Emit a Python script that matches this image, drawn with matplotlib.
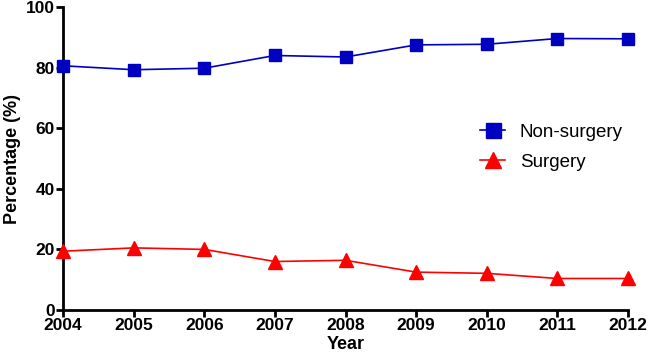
import matplotlib
matplotlib.use("Agg")
import matplotlib.pyplot as plt

years = [2004, 2005, 2006, 2007, 2008, 2009, 2010, 2011, 2012]
non_surgery = [80.6, 79.3, 79.8, 84.0, 83.5, 87.5, 87.7, 89.6, 89.5]
surgery = [19.4, 20.5, 20.0, 16.0, 16.4, 12.5, 12.1, 10.4, 10.4]

plt.rcParams['font.family'] = ['Liberation Sans', 'DejaVu Sans']

fig = plt.figure(figsize=(6.5, 3.59), dpi=100)
ax = fig.add_axes([63/650, 1 - 310/359, (628 - 63)/650, (310 - 7)/359])

ax.plot(years, non_surgery, color='#0000C0', marker='s', markersize=9,
        linewidth=1.2, label='Non-surgery', clip_on=False, zorder=3)
ax.plot(years, surgery, color='#FF0000', marker='^', markersize=10,
        linewidth=1.2, label='Surgery', clip_on=False, zorder=3)

ax.set_xlim(2004, 2012)
ax.set_ylim(0, 100)
ax.set_xticks(years)
ax.set_yticks([0, 20, 40, 60, 80, 100])

for s in ['top', 'right']:
    ax.spines[s].set_visible(False)
for s in ['left', 'bottom']:
    ax.spines[s].set_linewidth(2)
    ax.spines[s].set_color('black')
ax.tick_params(axis='both', direction='out', length=5, width=2,
               labelsize=12.5, pad=1)
for lab in ax.get_xticklabels() + ax.get_yticklabels():
    lab.set_fontweight('bold')

ax.set_xlabel('Year', fontsize=13, fontweight='bold', labelpad=2)
ax.set_ylabel('Percentage (%)', fontsize=13, fontweight='bold', labelpad=3)

ax.legend(loc='center left', bbox_to_anchor=(0.709, 0.537), frameon=False,
          fontsize=13.5, handlelength=1.3, handletextpad=0.8, labelspacing=0.7,
          markerscale=1.2)

fig.savefig('out.png', dpi=100)
